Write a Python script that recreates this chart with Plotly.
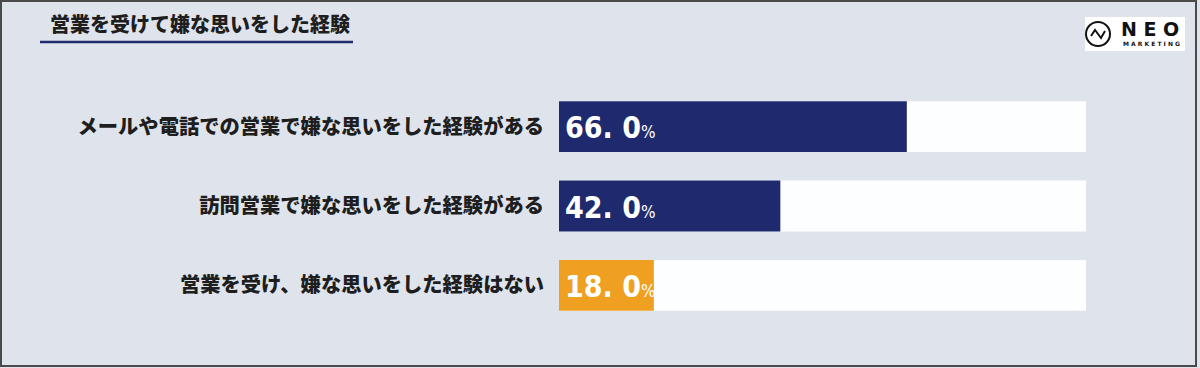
import plotly.graph_objects as go

# ---- data ----
categories = [
    "メールや電話での営業で嫌な思いをした経験がある",
    "訪問営業で嫌な思いをした経験がある",
    "営業を受け、嫌な思いをした経験はない",
]
values = [66.0, 42.0, 18.0]
bar_colors = ["#1f2a6e", "#1f2a6e", "#f0a020"]
track_max = [100, 100, 100]
title_text = "営業を受けて嫌な思いをした経験"

# ---- geometry (pixels) ----
W, H = 1200, 368
L, R, T, B = 559, 114, 87, 43
PW, PH = W - L - R, H - T - B


def px(x):
    return (x - L) / PW


def py(y):
    return (H - B - y) / PH


BG = "#dfe4ec"
JP = "Noto Sans CJK JP, Noto Sans, sans-serif"
NUM = "DejaVu Sans Condensed, Liberation Sans Narrow, sans-serif"

fig = go.Figure()
fig.add_trace(go.Bar(
    y=categories, x=track_max, orientation="h",
    marker=dict(color="#fdfeff", line=dict(width=0)),
    width=0.64, hoverinfo="skip", showlegend=False,
))
fig.add_trace(go.Bar(
    y=categories, x=values, orientation="h",
    marker=dict(color=bar_colors, line=dict(width=0)),
    width=0.64, showlegend=False,
))

annotations = []
for c, v in zip(categories, values):
    s = f"{v:.1f}".replace(".", ". ")
    annotations.append(dict(
        x=0, y=c, xref="x", yref="y", xanchor="left", yanchor="middle",
        xshift=4, yshift=-1, showarrow=False,
        text=f"<b>{s}</b><span style='font-size:17px'>%</span>",
        font=dict(family=NUM, size=30, color="#ffffff"),
    ))

# title
annotations.append(dict(
    x=px(48), y=py(23), xref="paper", yref="paper", xanchor="left", yanchor="middle",
    showarrow=False, text=title_text,
    font=dict(family=JP, size=20, color="#1e1e1e", weight=900),
))
# logo texts
annotations.append(dict(
    x=px(1150), y=py(29), xref="paper", yref="paper", xanchor="center", yanchor="middle",
    showarrow=False, text="N E O",
    font=dict(family="DejaVu Sans, sans-serif", size=19, color="#111111", weight=700),
))
annotations.append(dict(
    x=px(1151), y=py(44), xref="paper", yref="paper", xanchor="center", yanchor="middle",
    showarrow=False, text="M A R K E T I N G",
    font=dict(family="DejaVu Sans, sans-serif", size=6, color="#111111", weight=700),
))

shapes = [
    # title underline
    dict(type="line", xref="paper", yref="paper", x0=px(40), x1=px(353), y0=py(42), y1=py(42),
         line=dict(color="#1f2a6e", width=2.5)),
    # logo box
    dict(type="rect", xref="paper", yref="paper", x0=px(1085), x1=px(1185), y0=py(51), y1=py(17),
         fillcolor="#ffffff", line=dict(width=0), layer="below"),
    dict(type="circle", xref="paper", yref="paper", x0=px(1086), x1=px(1110), y0=py(46), y1=py(22),
         line=dict(color="#111111", width=2)),
    dict(type="path", xref="paper", yref="paper",
         path=f"M {px(1091)},{py(36)} L {px(1095)},{py(30)} L {px(1101)},{py(38)} L {px(1105)},{py(31)}",
         line=dict(color="#111111", width=2)),
    # outer frame
    dict(type="rect", xref="paper", yref="paper", x0=px(1), x1=px(1196), y0=py(366), y1=py(1),
         line=dict(color="#4a4a4a", width=2)),
]

fig.update_layout(
    width=W, height=H,
    margin=dict(l=L, r=R, t=T, b=B, pad=0),
    paper_bgcolor=BG, plot_bgcolor=BG,
    barmode="overlay",
    xaxis=dict(range=[0, 100], visible=False, fixedrange=True),
    yaxis=dict(
        categoryorder="array", categoryarray=categories[::-1],
        showgrid=False, zeroline=False, showline=False, ticks="",
        ticklabelstandoff=14,
        tickfont=dict(family=JP, size=20.3, color="#1e1e1e", weight=900),
        fixedrange=True,
    ),
    annotations=annotations,
    shapes=shapes,
)

fig.write_html(
    "out.html",
    config={"displayModeBar": False},
    post_script="document.body.style.margin='0';document.body.style.padding='0';document.body.style.overflow='hidden';",
)
